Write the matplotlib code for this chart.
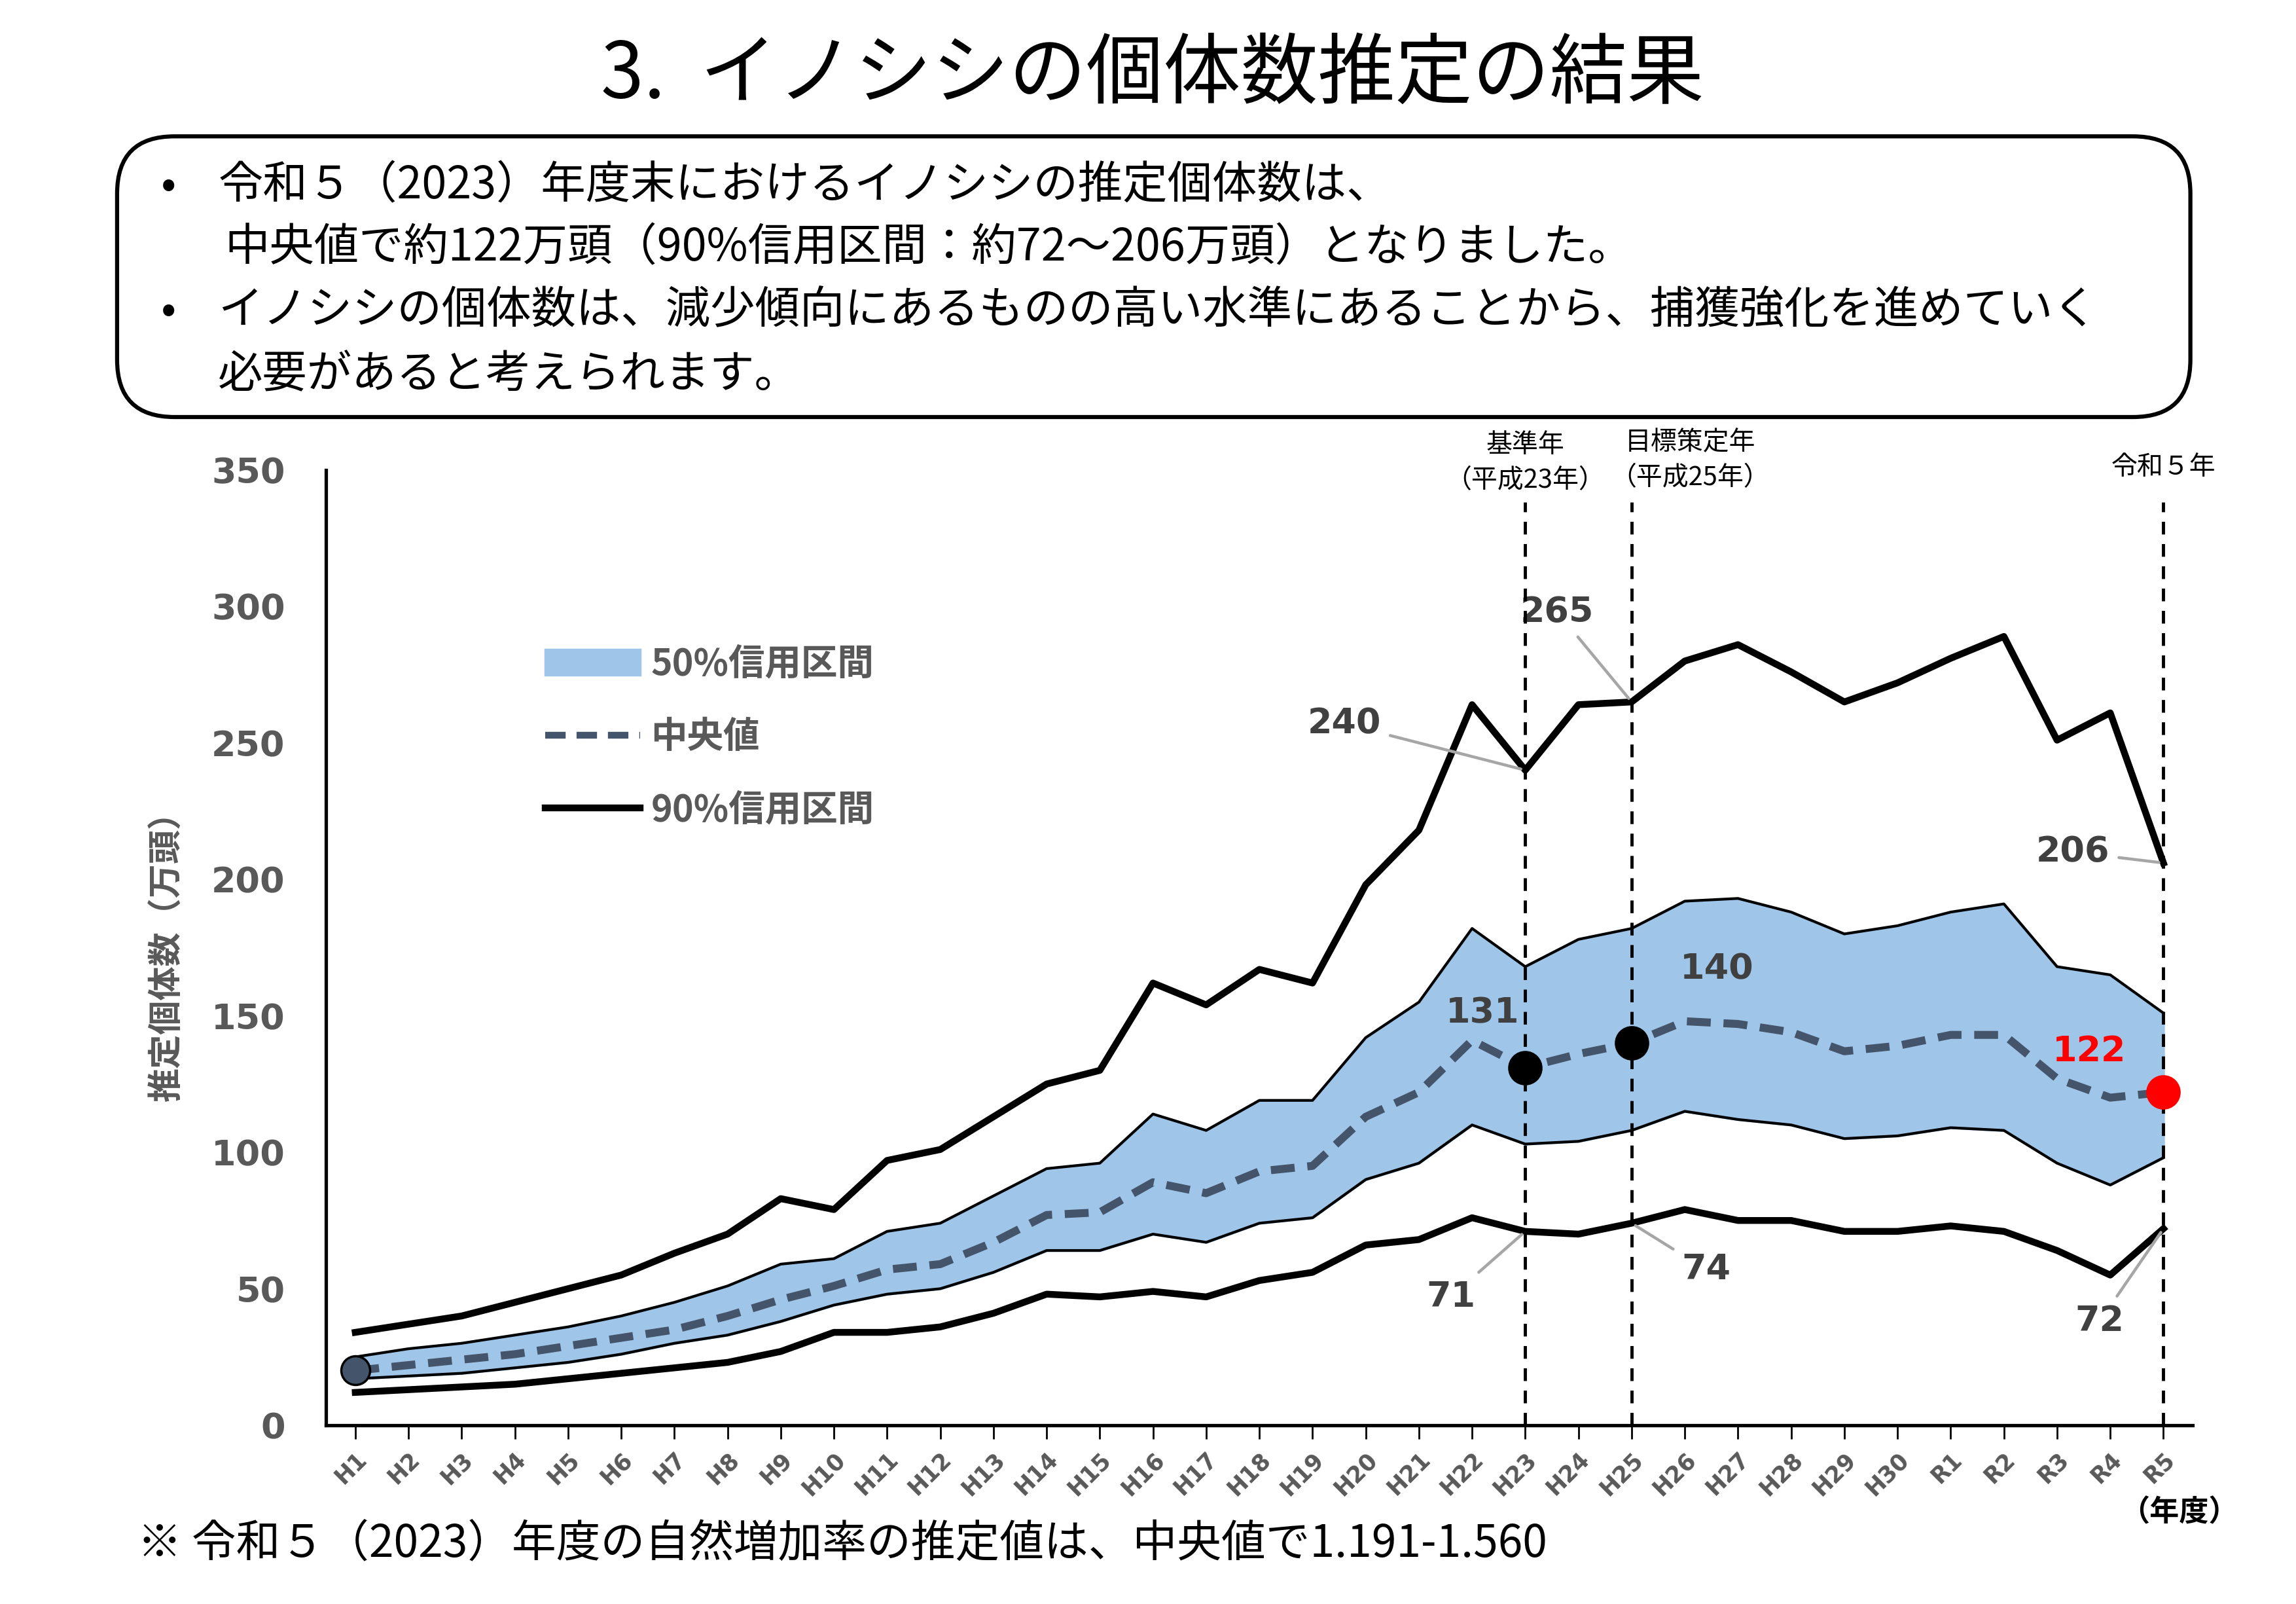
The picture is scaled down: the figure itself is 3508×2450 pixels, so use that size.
import matplotlib
matplotlib.use('Agg')
import matplotlib.pyplot as plt
from matplotlib.patches import FancyBboxPatch, Patch
from matplotlib.lines import Line2D

plt.rcParams['font.family'] = ['Noto Sans CJK JP', 'DejaVu Sans']

# データ（万頭）
years = ['H%d' % i for i in range(1, 31)] + ['R%d' % i for i in range(1, 6)]
upper90 = [34, 37, 40, 45, 50, 55, 63, 70, 83, 79, 97, 101, 113, 125, 130, 162, 154, 167, 162, 198,
           218, 264, 240, 264, 265, 280, 286, 276, 265, 272, 281, 289, 251, 261, 206]
upper50 = [25, 28, 30, 33, 36, 40, 45, 51, 59, 61, 71, 74, 84, 94, 96, 114, 108, 119, 119, 142,
           155, 182, 168, 178, 182, 192, 193, 188, 180, 183, 188, 191, 168, 165, 151]
median = [20, 22, 24, 26, 29, 32, 35, 40, 46, 51, 57, 59, 67, 77, 78, 89, 85, 93, 95, 113,
          122, 141, 131, 136, 140, 148, 147, 144, 137, 139, 143, 143, 127, 120, 122]
lower50 = [17, 18, 19, 21, 23, 26, 30, 33, 38, 44, 48, 50, 56, 64, 64, 70, 67, 74, 76, 90,
           96, 110, 103, 104, 108, 115, 112, 110, 105, 106, 109, 108, 96, 88, 98]
lower90 = [12, 13, 14, 15, 17, 19, 21, 23, 27, 34, 34, 36, 41, 48, 47, 49, 47, 53, 56, 66,
           68, 76, 71, 70, 74, 79, 75, 75, 71, 71, 73, 71, 64, 55, 72]

x = list(range(len(years)))
i23, i25, iR5 = years.index('H23'), years.index('H25'), years.index('R5')

fig = plt.figure(figsize=(14.032, 9.8), dpi=250)
ax = fig.add_axes([0.142, 0.1115, 0.813, 0.5955])

ax.fill_between(x, lower50, upper50, color='#9fc5e8', zorder=1)
ax.plot(x, upper50, color='black', lw=1.2, zorder=2)
ax.plot(x, lower50, color='black', lw=1.2, zorder=2)
ax.plot(x, upper90, color='black', lw=3, zorder=3)
ax.plot(x, lower90, color='black', lw=3, zorder=3)
ax.plot(x, median, color='#44546a', lw=3.5, ls=(0, (3, 1.6)), zorder=4)

ax.scatter([0], [median[0]], s=160, color='#44546a', edgecolor='black', zorder=6)
ax.scatter([i23, i25], [median[i23], median[i25]], s=200, color='black', zorder=6)
ax.scatter([iR5], [median[iR5]], s=200, color='red', zorder=6)

for i in (i23, i25, iR5):
    ax.axvline(i, ymin=0, ymax=0.966, color='black', ls=(0, (4, 3)), lw=1.4, zorder=5)

ax.set_xlim(-0.55, 34.55)
ax.set_ylim(0, 350)
ax.set_yticks(range(0, 351, 50))
ax.set_xticks(x)
ax.set_xticklabels(years, rotation=45, ha='right', rotation_mode='anchor',
                   fontsize=10, fontweight='bold', color='#595959', family='DejaVu Sans')
for t in ax.get_yticklabels():
    t.set_fontsize(15.5)
    t.set_fontweight('bold')
    t.set_color('#595959')
    t.set_family('DejaVu Sans')
ax.tick_params(axis='y', length=0, pad=18)
ax.tick_params(axis='x', length=6, direction='out', pad=4)
for s in ('top', 'right'):
    ax.spines[s].set_visible(False)
ax.spines['left'].set_linewidth(1.5)
ax.spines['bottom'].set_linewidth(1.5)
ax.set_ylabel('推定個体数（万頭）', fontsize=15, fontweight='bold', color='#595959', labelpad=12)
ax.text(35.4, -32, '（年度）', fontsize=13, fontweight='bold', ha='right', va='center', clip_on=False)

# 数値ラベル
lab = dict(fontsize=15.5, fontweight='bold', color='#404040', family='DejaVu Sans')
gray = dict(color='#a6a6a6', lw=1.3)
ax.annotate('240', xy=(i23, upper90[i23]), xytext=(18.6, 257), ha='center', va='center', **lab,
            arrowprops=dict(arrowstyle='-', **gray))
ax.annotate('265', xy=(i25, upper90[i25]), xytext=(22.6, 298), ha='center', va='center', **lab,
            arrowprops=dict(arrowstyle='-', **gray))
ax.annotate('206', xy=(iR5, upper90[iR5]), xytext=(32.3, 210), ha='center', va='center', **lab,
            arrowprops=dict(arrowstyle='-', **gray))
ax.text(21.2, 151, '131', ha='center', va='center', **lab)
ax.text(25.6, 167, '140', ha='center', va='center', **lab)
ax.text(32.6, 137, '122', ha='center', va='center', fontsize=15.5, fontweight='bold', color='red',
        family='DejaVu Sans')
ax.annotate('71', xy=(i23, lower90[i23]), xytext=(20.6, 47), ha='center', va='center', **lab,
            arrowprops=dict(arrowstyle='-', **gray))
ax.annotate('74', xy=(i25, lower90[i25]), xytext=(25.4, 57), ha='center', va='center', **lab,
            arrowprops=dict(arrowstyle='-', **gray))
ax.annotate('72', xy=(iR5, lower90[iR5]), xytext=(32.8, 38), ha='center', va='center', **lab,
            arrowprops=dict(arrowstyle='-', **gray))

# 縦線の注記
ax.text(i23, 359, '基準年', ha='center', va='center', fontsize=11.5)
ax.text(i23, 346, '（平成23年）', ha='center', va='center', fontsize=11.5)
ax.text(i25 + 1.1, 360, '目標策定年', ha='center', va='center', fontsize=11.5)
ax.text(i25 + 1.1, 347, '（平成25年）', ha='center', va='center', fontsize=11.5)
ax.text(iR5, 351, '令和５年', ha='center', va='center', fontsize=11.5)

handles = [Patch(color='#9fc5e8'),
           Line2D([], [], color='#44546a', lw=3, ls=(0, (3, 1.6))),
           Line2D([], [], color='black', lw=3)]
leg = ax.legend(handles, ['50%信用区間', '中央値', '90%信用区間'], loc='upper left',
                bbox_to_anchor=(0.1, 0.85), frameon=False, fontsize=16, handlelength=2.6,
                labelspacing=1.0, handletextpad=0.3)
for t in leg.get_texts():
    t.set_fontweight('bold')
    t.set_color('#595959')

# タイトルと説明
fig.text(0.502, 0.953, '3.  イノシシの個体数推定の結果', ha='center', va='center', fontsize=34)
box = FancyBboxPatch((0.051, 0.74), 0.903, 0.175, boxstyle='round,pad=0,rounding_size=0.025',
                     transform=fig.transFigure, fc='white', ec='black', lw=1.8, mutation_aspect=1.43)
fig.patches.append(box)
body = dict(fontsize=19.7, va='center', ha='left')
fig.text(0.07, 0.884, '•', **body)
fig.text(0.095, 0.884, '令和５（2023）年度末におけるイノシシの推定個体数は、', **body)
fig.text(0.098, 0.845, '中央値で約122万頭（90%信用区間：約72～206万頭）となりました。', **body)
fig.text(0.07, 0.806, '•', **body)
fig.text(0.095, 0.806, 'イノシシの個体数は、減少傾向にあるものの高い水準にあることから、捕獲強化を進めていく', **body)
fig.text(0.095, 0.766, '必要があると考えられます。', **body)

fig.text(0.06, 0.037, '※ 令和５（2023）年度の自然増加率の推定値は、中央値で1.191-1.560', fontsize=19.5,
         va='center', ha='left')

fig.savefig('out.png', dpi=250)
